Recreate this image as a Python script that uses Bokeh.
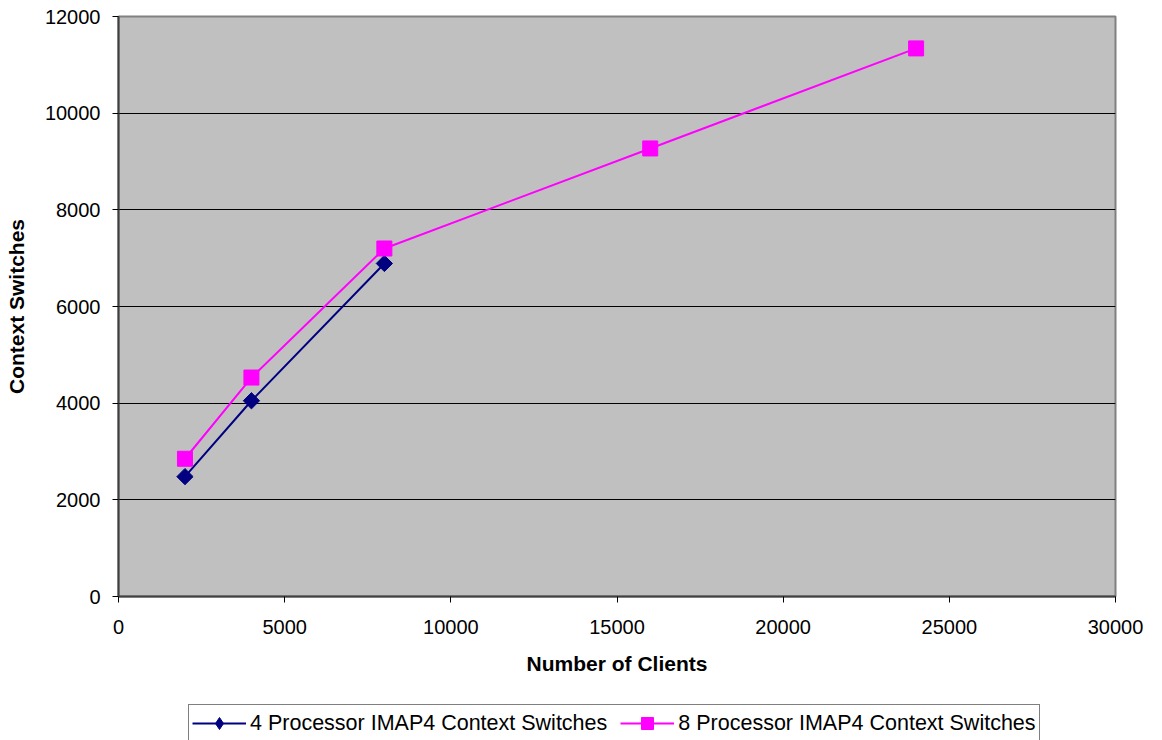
import math
from bokeh.plotting import figure
from bokeh.layouts import column
from bokeh.models import Range1d, SingleIntervalTicker, Legend, LegendItem
from bokeh.embed import file_html
from bokeh.resources import INLINE

clients_4 = [2000, 4000, 8000]
switches_4 = [2480, 4050, 6890]
clients_8 = [2000, 4000, 8000, 16000, 24000]
switches_8 = [2850, 4530, 7200, 9270, 11340]
label_4 = "4 Processor IMAP4 Context Switches"
label_8 = "8 Processor IMAP4 Context Switches"

FONT = "Liberation Sans"
NAVY = "#000080"
MAGENTA = "#FF00FF"

p = figure(width=1162, height=700, output_backend="svg", toolbar_location=None,
           x_range=Range1d(0, 30000), y_range=Range1d(0, 12000),
           min_border_left=118, min_border_right=47, min_border_top=16, min_border_bottom=104)
p.frame_width = 997
p.frame_height = 580

p.background_fill_color = "#C0C0C0"
p.border_fill_color = "white"
p.outline_line_color = "#808080"
p.outline_line_width = 2

p.xaxis.ticker = SingleIntervalTicker(interval=5000, num_minor_ticks=0)
p.yaxis.ticker = SingleIntervalTicker(interval=2000, num_minor_ticks=0)
for ax in (p.xaxis, p.yaxis):
    ax.major_label_text_font = FONT
    ax.major_label_text_font_size = "20px"
    ax.major_label_text_color = "black"
    ax.axis_label_text_font = FONT
    ax.axis_label_text_font_size = "21px"
    ax.axis_label_text_font_style = "bold"
    ax.axis_label_text_color = "black"
    ax.axis_line_color = "#404040"
    ax.axis_line_width = 2
    ax.major_tick_line_color = "black"
    ax.major_tick_out = 6
    ax.major_tick_in = 0
    ax.minor_tick_line_color = None
p.xaxis.axis_label = "Number of Clients"
p.yaxis.axis_label = "Context Switches"
p.xaxis.major_label_standoff = 17
p.yaxis.major_label_standoff = 12
p.xaxis.axis_label_standoff = 15
p.yaxis.axis_label_standoff = 14

p.xgrid.grid_line_color = None
p.ygrid.grid_line_color = "black"
p.ygrid.grid_line_width = 1

p.line(clients_4, switches_4, line_color=NAVY, line_width=2)
p.scatter(clients_4, switches_4, marker="square", size=11.5, angle=math.pi / 4,
          fill_color=NAVY, line_color=NAVY)
p.line(clients_8, switches_8, line_color=MAGENTA, line_width=2)
p.scatter(clients_8, switches_8, marker="square", size=15,
          fill_color=MAGENTA, line_color=MAGENTA)

# legend strip below the chart (its own frame, data kept outside its ranges)
q = figure(width=1162, height=40, output_backend="svg", toolbar_location=None,
           x_range=Range1d(-2, -1), y_range=Range1d(-2, -1),
           x_axis_location=None, y_axis_location=None,
           min_border_left=118, min_border_right=47, min_border_top=4, min_border_bottom=0)
q.frame_width = 997
q.frame_height = 36
q.grid.visible = False
q.outline_line_color = None
q.background_fill_color = "white"
q.border_fill_color = "white"
l4 = q.line(clients_4, switches_4, line_color=NAVY, line_width=2)
m4 = q.scatter(clients_4, switches_4, marker="diamond", fill_color=NAVY, line_color=NAVY)
l8 = q.line(clients_8, switches_8, line_color=MAGENTA, line_width=2)
m8 = q.scatter(clients_8, switches_8, marker="square", fill_color=MAGENTA, line_color=MAGENTA)

legend = Legend(items=[LegendItem(label=label_4, renderers=[l4, m4]),
                       LegendItem(label=label_8, renderers=[l8, m8])],
                orientation="horizontal", location=(70, -2))
legend.label_text_font = FONT
legend.label_text_font_size = "21.5px"
legend.label_text_color = "black"
legend.border_line_color = "black"
legend.border_line_width = 1
legend.background_fill_color = "white"
legend.background_fill_alpha = 1
legend.glyph_width = 54
legend.glyph_height = 30
legend.label_height = 20
legend.label_standoff = 4
legend.spacing = 13
legend.padding = 3
legend.margin = 0
q.add_layout(legend, "center")

layout = column(p, q, spacing=0)
open("out.html", "w").write(file_html(layout, INLINE))
